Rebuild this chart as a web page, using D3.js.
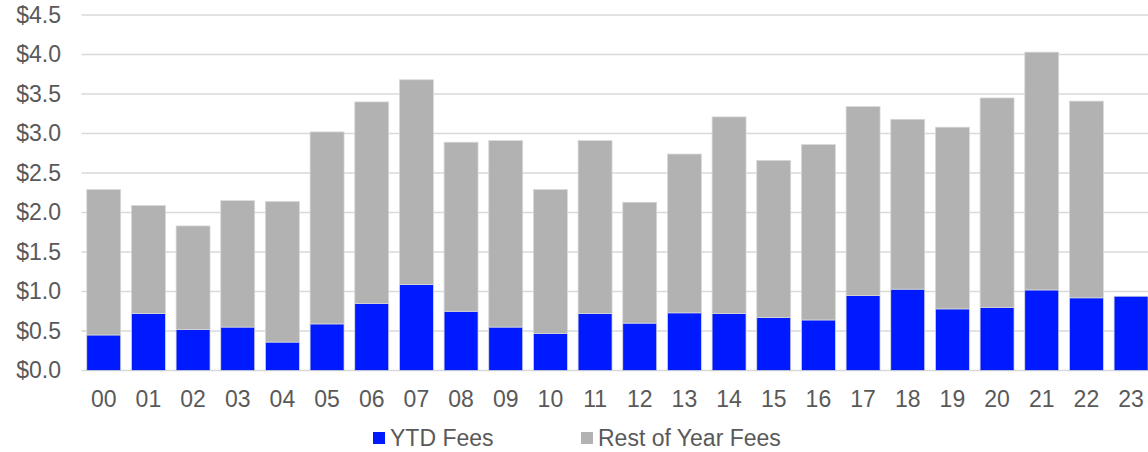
<!DOCTYPE html>
<html>
<head>
<meta charset="utf-8">
<script src="https://cdn.jsdelivr.net/npm/d3@7/dist/d3.min.js"></script>
<style>
  html, body { margin: 0; padding: 0; background: #fff; overflow: hidden; }
  svg { display: block; font-family: "Liberation Sans", Arial, sans-serif; }
</style>
</head>
<body>
<svg id="chart" width="1148" height="452"></svg>
<script>
// Fee totals by year ($), split into year-to-date and remainder of year
const years = ["00","01","02","03","04","05","06","07","08","09","10","11",
               "12","13","14","15","16","17","18","19","20","21","22","23"];
const ytdFees  = [0.45,0.72,0.52,0.55,0.36,0.59,0.85,1.09,0.75,0.55,0.47,0.72,
                  0.60,0.73,0.72,0.67,0.64,0.95,1.03,0.78,0.80,1.02,0.92,0.94];
const restFees = [1.84,1.37,1.31,1.60,1.78,2.43,2.55,2.59,2.14,2.36,1.82,2.19,
                  1.53,2.01,2.49,1.99,2.22,2.39,2.15,2.30,2.65,3.01,2.49,0.00];
const yTicks = [0, 0.5, 1, 1.5, 2, 2.5, 3, 3.5, 4, 4.5];
const seriesNames = ["YTD Fees", "Rest of Year Fees"];
const seriesColors = ["#001aff", "#b2b2b2"];

const svg = d3.select("#chart");
const plot = { left: 81.4, right: 1153.4, top: 15, bottom: 370.5 };

const x = d3.scaleBand()
  .domain(years)
  .range([plot.left, plot.right])
  .paddingInner(0.24)
  .paddingOuter(0.12);

const y = d3.scaleLinear()
  .domain([0, 4.5])
  .range([plot.bottom, plot.top]);

// Horizontal gridlines
svg.append("g")
  .selectAll("line")
  .data(yTicks)
  .join("line")
  .attr("x1", plot.left)
  .attr("x2", plot.right)
  .attr("y1", d => y(d))
  .attr("y2", d => y(d))
  .attr("stroke", "#d9d9d9")
  .attr("stroke-width", 1.5);

// Y axis labels
const yAxis = d3.axisLeft(y)
  .tickValues(yTicks)
  .tickSize(0)
  .tickPadding(0)
  .tickFormat(d => "$" + d3.format(".1f")(d));
svg.append("g")
  .attr("transform", `translate(61,0)`)
  .call(yAxis)
  .call(g => g.select(".domain").remove())
  .call(g => g.selectAll("text")
    .attr("fill", "#595959")
    .attr("font-size", 23)
    .attr("font-family", "Liberation Sans, Arial, sans-serif"));

// Stacked bars
const rows = years.map((yr, i) => ({ year: yr, ytd: ytdFees[i], rest: restFees[i] }));
const stack = d3.stack().keys(["ytd", "rest"]);
const layers = stack(rows);

svg.append("g")
  .selectAll("g")
  .data(layers)
  .join("g")
  .attr("fill", (d, i) => seriesColors[i])
  .selectAll("rect")
  .data(d => d.filter(s => s[1] - s[0] > 0))
  .join("rect")
  .attr("x", d => x(d.data.year))
  .attr("width", x.bandwidth())
  .attr("y", d => y(d[1]))
  .attr("height", d => y(d[0]) - y(d[1]))
  .attr("stroke", "#d9d9d9")
  .attr("stroke-width", 0.75);

// X axis labels
const xAxis = d3.axisBottom(x).tickSize(0).tickPadding(0);
svg.append("g")
  .attr("transform", `translate(0,${plot.bottom})`)
  .call(xAxis)
  .call(g => g.select(".domain").remove())
  .call(g => g.selectAll("text")
    .attr("dy", null)
    .attr("y", 36.5)
    .attr("fill", "#595959")
    .attr("font-size", 23)
    .attr("font-family", "Liberation Sans, Arial, sans-serif"));

// Legend
const legendX = [373, 581];
const legend = svg.append("g")
  .selectAll("g")
  .data(seriesNames)
  .join("g")
  .attr("transform", (d, i) => `translate(${legendX[i]},432)`);
legend.append("rect")
  .attr("width", 12)
  .attr("height", 12)
  .attr("fill", (d, i) => seriesColors[i]);
legend.append("text")
  .attr("x", 17)
  .attr("y", 14)
  .attr("fill", "#595959")
  .attr("font-size", 23)
  .text(d => d);
</script>
</body>
</html>
